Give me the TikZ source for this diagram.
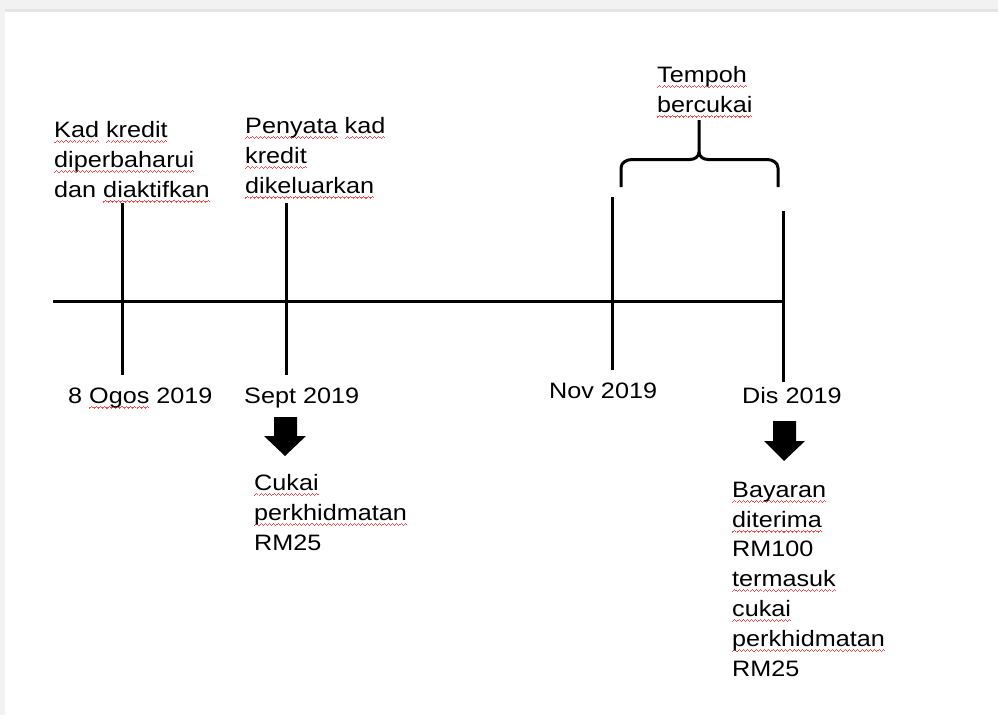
\documentclass[tikz,border=0pt]{standalone}
\usepackage{fontspec}
\setmainfont{Liberation Sans}[FakeStretch=1.13]
\newcommand\wvpiece{\hbox{\rule[0pt]{1.05pt}{1.1pt}\rule[0.9pt]{1.05pt}{1.1pt}\rule[1.8pt]{1.05pt}{1.1pt}\rule[0.9pt]{1.05pt}{1.1pt}}}
\newcommand\sq[1]{\setbox0\hbox{#1}\rlap{\color{red!70}\lower5.5pt\hbox to\wd0{\xleaders\wvpiece\hfill}}\box0\relax}
\begin{document}
\begin{tikzpicture}[x=1pt,y=-1pt,
  ln/.style={line width=3pt},
  lbl/.style={inner sep=0pt,anchor=base west,align=left,font=\fontsize{22.3}{29.8}\selectfont},
  blk/.style={fill=black}]
\useasboundingbox (0,0) rectangle (998,715);
\fill[black!5] (0,0) rectangle (998,9);
\fill[black!10] (0,9) rectangle (998,12);
\fill[black!5] (0,0) rectangle (5,715);
% axis and ticks
\coordinate (a0) at (53,301);
\coordinate (a1) at (783,301);
\coordinate (t1a) at (122,203); \coordinate (t1b) at (122,375);
\coordinate (t2a) at (286,203); \coordinate (t2b) at (286,375);
\coordinate (t3a) at (612,197); \coordinate (t3b) at (612,370);
\coordinate (t4a) at (783,211); \coordinate (t4b) at (783,382);
\draw[ln] (a0) -- (a1);
\draw[ln] (t1a) -- (t1b);
\draw[ln] (t2a) -- (t2b);
\draw[ln] (t3a) -- (t3b);
\draw[ln] (t4a) -- (t4b);
% brace
\coordinate (bl) at (621,187);
\coordinate (br) at (778,187);
\coordinate (bt) at (699,120);
\draw[ln,line join=round] (bl) -- (621,168) to[out=90,in=180] (632,159.5) -- (690,159.5) to[out=0,in=270] (699,152) -- (bt);
\draw[ln,line join=round] (br) -- (778,168) to[out=90,in=0] (767,159.5) -- (708,159.5) to[out=180,in=270] (699,152);
% texts (base anchor = last line)
\node[lbl] (k1) at (54,197) {\sq{Kad} \sq{kredit}\\\sq{diperbaharui}\\dan \sq{diaktifkan}};
\node[lbl] (k2) at (245,193) {\sq{Penyata} \sq{kad}\\\sq{kredit}\\\sq{dikeluarkan}};
\node[lbl] (k3) at (657,112) {\sq{Tempoh}\\\sq{bercukai}};
\node[lbl] (d1) at (68,403) {8 \sq{Ogos} 2019};
\node[lbl] (d2) at (244,403) {Sept 2019};
\node[lbl] (d3) at (549,398) {Nov 2019};
\node[lbl] (d4) at (742,403) {Dis 2019};
\node[lbl] (c1) at (254,550) {\sq{Cukai}\\\sq{perkhidmatan}\\RM25};
\node[lbl] (c2) at (732,676) {\sq{Bayaran}\\\sq{diterima}\\RM100\\\sq{termasuk}\\\sq{cukai}\\\sq{perkhidmatan}\\RM25};
% block arrows
\fill[blk] (274,417) -- (297,417) -- (297,436) -- (306,436) -- (285,456) -- (264,436) -- (274,436) -- cycle;
\fill[blk] (773,421) -- (796,421) -- (796,441) -- (805,441) -- (784,461) -- (764,441) -- (773,441) -- cycle;
\end{tikzpicture}
\end{document}
